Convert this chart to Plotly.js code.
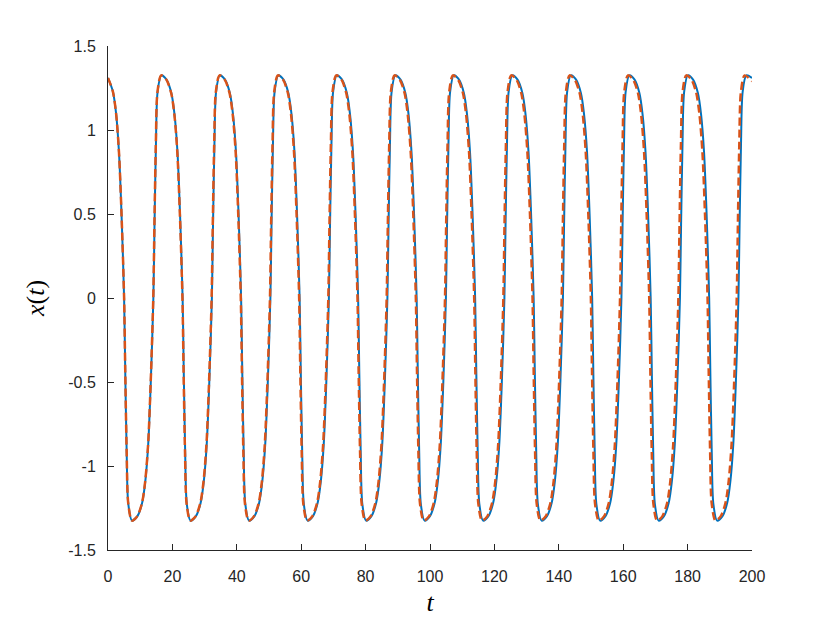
<!DOCTYPE html>
<html>
<head>
<meta charset="utf-8">
<script src="https://cdn.plot.ly/plotly-3.0.1.min.js"></script>
<style>html,body{margin:0;padding:0;background:#fff;}#chart{width:830px;height:623px;}</style>
</head>
<body>
<div id="chart"></div>
<script>
// (blue solid series)
const tBlue = [
  0, 1.5, 2.5, 3.4, 4.2,
  5.00, 5.35, 5.80, 6.30, 7.45, 9.09, 10.59, 11.59, 12.49, 13.29,
  14.09, 14.44, 14.89, 15.39, 16.54, 18.17, 19.67, 20.67, 21.57, 22.37,
  23.17, 23.52, 23.97, 24.47, 25.62, 27.26, 28.76, 29.76, 30.66, 31.46,
  32.26, 32.61, 33.06, 33.56, 34.71, 36.34, 37.84, 38.84, 39.74, 40.54,
  41.34, 41.69, 42.14, 42.64, 43.79, 45.43, 46.93, 47.93, 48.83, 49.63,
  50.43, 50.78, 51.23, 51.73, 52.88, 54.51, 56.01, 57.01, 57.91, 58.71,
  59.51, 59.86, 60.31, 60.81, 61.96, 63.60, 65.10, 66.10, 67.00, 67.80,
  68.60, 68.95, 69.40, 69.90, 71.05, 72.68, 74.18, 75.18, 76.08, 76.88,
  77.68, 78.03, 78.48, 78.98, 80.13, 81.77, 83.27, 84.27, 85.17, 85.97,
  86.77, 87.12, 87.57, 88.07, 89.22, 90.85, 92.35, 93.35, 94.25, 95.05,
  95.85, 96.20, 96.65, 97.15, 98.30, 99.94, 101.44, 102.44, 103.34, 104.14,
  104.94, 105.29, 105.74, 106.24, 107.39, 109.02, 110.52, 111.52, 112.42, 113.22,
  114.02, 114.37, 114.82, 115.32, 116.47, 118.11, 119.61, 120.61, 121.51, 122.31,
  123.11, 123.46, 123.91, 124.41, 125.56, 127.19, 128.69, 129.69, 130.59, 131.39,
  132.19, 132.54, 132.99, 133.49, 134.64, 136.28, 137.78, 138.78, 139.68, 140.48,
  141.28, 141.63, 142.08, 142.58, 143.73, 145.36, 146.86, 147.86, 148.76, 149.56,
  150.36, 150.71, 151.16, 151.66, 152.81, 154.45, 155.95, 156.95, 157.85, 158.65,
  159.45, 159.80, 160.25, 160.75, 161.90, 163.53, 165.03, 166.03, 166.93, 167.73,
  168.53, 168.88, 169.33, 169.83, 170.98, 172.62, 174.12, 175.12, 176.02, 176.82,
  177.62, 177.97, 178.42, 178.92, 180.07, 181.70, 183.20, 184.20, 185.10, 185.90,
  186.70, 187.05, 187.50, 188.00, 189.15, 190.79, 192.29, 193.29, 194.19, 194.99,
  195.79, 196.14, 196.59, 197.09, 198.24, 200
];
const xBlue = [
  1.31, 1.23, 1.10, 0.87, 0.50,
  0, -0.43, -0.92, -1.225, -1.325, -1.30, -1.22, -1.09, -0.87, -0.50,
  0, 0.43, 0.92, 1.225, 1.325, 1.30, 1.22, 1.09, 0.87, 0.50,
  0, -0.43, -0.92, -1.225, -1.325, -1.30, -1.22, -1.09, -0.87, -0.50,
  0, 0.43, 0.92, 1.225, 1.325, 1.30, 1.22, 1.09, 0.87, 0.50,
  0, -0.43, -0.92, -1.225, -1.325, -1.30, -1.22, -1.09, -0.87, -0.50,
  0, 0.43, 0.92, 1.225, 1.325, 1.30, 1.22, 1.09, 0.87, 0.50,
  0, -0.43, -0.92, -1.225, -1.325, -1.30, -1.22, -1.09, -0.87, -0.50,
  0, 0.43, 0.92, 1.225, 1.325, 1.30, 1.22, 1.09, 0.87, 0.50,
  0, -0.43, -0.92, -1.225, -1.325, -1.30, -1.22, -1.09, -0.87, -0.50,
  0, 0.43, 0.92, 1.225, 1.325, 1.30, 1.22, 1.09, 0.87, 0.50,
  0, -0.43, -0.92, -1.225, -1.325, -1.30, -1.22, -1.09, -0.87, -0.50,
  0, 0.43, 0.92, 1.225, 1.325, 1.30, 1.22, 1.09, 0.87, 0.50,
  0, -0.43, -0.92, -1.225, -1.325, -1.30, -1.22, -1.09, -0.87, -0.50,
  0, 0.43, 0.92, 1.225, 1.325, 1.30, 1.22, 1.09, 0.87, 0.50,
  0, -0.43, -0.92, -1.225, -1.325, -1.30, -1.22, -1.09, -0.87, -0.50,
  0, 0.43, 0.92, 1.225, 1.325, 1.30, 1.22, 1.09, 0.87, 0.50,
  0, -0.43, -0.92, -1.225, -1.325, -1.30, -1.22, -1.09, -0.87, -0.50,
  0, 0.43, 0.92, 1.225, 1.325, 1.30, 1.22, 1.09, 0.87, 0.50,
  0, -0.43, -0.92, -1.225, -1.325, -1.30, -1.22, -1.09, -0.87, -0.50,
  0, 0.43, 0.92, 1.225, 1.325, 1.30, 1.22, 1.09, 0.87, 0.50,
  0, -0.43, -0.92, -1.225, -1.325, -1.30, -1.22, -1.09, -0.87, -0.50,
  0, 0.43, 0.92, 1.225, 1.325, 1.31
];

// (orange dashed series)
const tOrange = [
  0, 1.5, 2.5, 3.4, 4.2,
  5.00, 5.35, 5.80, 6.30, 7.45, 9.06, 10.56, 11.56, 12.46, 13.26,
  14.06, 14.41, 14.86, 15.36, 16.51, 18.12, 19.62, 20.62, 21.52, 22.32,
  23.12, 23.47, 23.92, 24.42, 25.57, 27.18, 28.68, 29.68, 30.58, 31.38,
  32.18, 32.53, 32.98, 33.48, 34.63, 36.24, 37.74, 38.74, 39.64, 40.44,
  41.24, 41.59, 42.04, 42.54, 43.69, 45.30, 46.80, 47.80, 48.70, 49.50,
  50.30, 50.65, 51.10, 51.60, 52.75, 54.36, 55.86, 56.86, 57.76, 58.56,
  59.36, 59.71, 60.16, 60.66, 61.81, 63.42, 64.92, 65.92, 66.82, 67.62,
  68.42, 68.77, 69.22, 69.72, 70.87, 72.48, 73.98, 74.98, 75.88, 76.68,
  77.48, 77.83, 78.28, 78.78, 79.93, 81.54, 83.04, 84.04, 84.94, 85.74,
  86.54, 86.89, 87.34, 87.84, 88.99, 90.60, 92.10, 93.10, 94.00, 94.80,
  95.60, 95.95, 96.40, 96.90, 98.05, 99.66, 101.16, 102.16, 103.06, 103.86,
  104.66, 105.01, 105.46, 105.96, 107.11, 108.72, 110.22, 111.22, 112.12, 112.92,
  113.72, 114.07, 114.52, 115.02, 116.17, 117.78, 119.28, 120.28, 121.18, 121.98,
  122.78, 123.13, 123.58, 124.08, 125.23, 126.84, 128.34, 129.34, 130.24, 131.04,
  131.84, 132.19, 132.64, 133.14, 134.29, 135.90, 137.40, 138.40, 139.30, 140.10,
  140.90, 141.25, 141.70, 142.20, 143.35, 144.96, 146.46, 147.46, 148.36, 149.16,
  149.96, 150.31, 150.76, 151.26, 152.41, 154.02, 155.52, 156.52, 157.42, 158.22,
  159.02, 159.37, 159.82, 160.32, 161.47, 163.08, 164.58, 165.58, 166.48, 167.28,
  168.08, 168.43, 168.88, 169.38, 170.53, 172.14, 173.64, 174.64, 175.54, 176.34,
  177.14, 177.49, 177.94, 178.44, 179.59, 181.20, 182.70, 183.70, 184.60, 185.40,
  186.20, 186.55, 187.00, 187.50, 188.65, 190.26, 191.76, 192.76, 193.66, 194.46,
  195.26, 195.61, 196.06, 196.56, 197.71, 200
];
const xOrange = [
  1.31, 1.23, 1.10, 0.87, 0.50,
  0, -0.43, -0.92, -1.225, -1.325, -1.30, -1.22, -1.09, -0.87, -0.50,
  0, 0.43, 0.92, 1.225, 1.325, 1.30, 1.22, 1.09, 0.87, 0.50,
  0, -0.43, -0.92, -1.225, -1.325, -1.30, -1.22, -1.09, -0.87, -0.50,
  0, 0.43, 0.92, 1.225, 1.325, 1.30, 1.22, 1.09, 0.87, 0.50,
  0, -0.43, -0.92, -1.225, -1.325, -1.30, -1.22, -1.09, -0.87, -0.50,
  0, 0.43, 0.92, 1.225, 1.325, 1.30, 1.22, 1.09, 0.87, 0.50,
  0, -0.43, -0.92, -1.225, -1.325, -1.30, -1.22, -1.09, -0.87, -0.50,
  0, 0.43, 0.92, 1.225, 1.325, 1.30, 1.22, 1.09, 0.87, 0.50,
  0, -0.43, -0.92, -1.225, -1.325, -1.30, -1.22, -1.09, -0.87, -0.50,
  0, 0.43, 0.92, 1.225, 1.325, 1.30, 1.22, 1.09, 0.87, 0.50,
  0, -0.43, -0.92, -1.225, -1.325, -1.30, -1.22, -1.09, -0.87, -0.50,
  0, 0.43, 0.92, 1.225, 1.325, 1.30, 1.22, 1.09, 0.87, 0.50,
  0, -0.43, -0.92, -1.225, -1.325, -1.30, -1.22, -1.09, -0.87, -0.50,
  0, 0.43, 0.92, 1.225, 1.325, 1.30, 1.22, 1.09, 0.87, 0.50,
  0, -0.43, -0.92, -1.225, -1.325, -1.30, -1.22, -1.09, -0.87, -0.50,
  0, 0.43, 0.92, 1.225, 1.325, 1.30, 1.22, 1.09, 0.87, 0.50,
  0, -0.43, -0.92, -1.225, -1.325, -1.30, -1.22, -1.09, -0.87, -0.50,
  0, 0.43, 0.92, 1.225, 1.325, 1.30, 1.22, 1.09, 0.87, 0.50,
  0, -0.43, -0.92, -1.225, -1.325, -1.30, -1.22, -1.09, -0.87, -0.50,
  0, 0.43, 0.92, 1.225, 1.325, 1.30, 1.22, 1.09, 0.87, 0.50,
  0, -0.43, -0.92, -1.225, -1.325, -1.30, -1.22, -1.09, -0.87, -0.50,
  0, 0.43, 0.92, 1.225, 1.325, 1.29
];

const xTickVals = [0, 20, 40, 60, 80, 100, 120, 140, 160, 180, 200];
const xTickText = ['0', '20', '40', '60', '80', '100', '120', '140', '160', '180', '200'];
const yTickVals = [-1.5, -1, -0.5, 0, 0.5, 1, 1.5];
const yTickText = ['-1.5', '-1', '-0.5', '0', '0.5', '1', '1.5'];

const axisColor = '#262626';
const tickFont = {family: '"Liberation Sans", Arial, sans-serif', size: 16, color: axisColor};
const titleFont = {family: '"Liberation Serif", "DejaVu Serif", serif', size: 26, color: '#000000'};

const traces = [
  {
    x: tBlue, y: xBlue, type: 'scatter', mode: 'lines',
    line: {color: '#0072BD', width: 2, shape: 'spline', smoothing: 0.8},
    hoverinfo: 'skip', showlegend: false
  },
  {
    x: tOrange, y: xOrange, type: 'scatter', mode: 'lines',
    line: {color: '#D95319', width: 2.5, dash: '8px,4px', shape: 'spline', smoothing: 0.8},
    hoverinfo: 'skip', showlegend: false
  }
];

const layout = {
  width: 830, height: 623,
  margin: {l: 108, r: 78, t: 46, b: 73},
  paper_bgcolor: '#ffffff', plot_bgcolor: '#ffffff',
  showlegend: false,
  xaxis: {
    range: [0, 200], tickvals: xTickVals, ticktext: xTickText,
    ticks: 'inside', ticklen: 6, tickwidth: 1, tickcolor: axisColor,
    showline: true, linecolor: axisColor, linewidth: 1, mirror: false,
    showgrid: false, zeroline: false, tickfont: tickFont,
    ticklabelstandoff: 12,
    title: {text: '<i>t</i>', font: titleFont, standoff: 8}
  },
  yaxis: {
    range: [-1.5, 1.5], tickvals: yTickVals, ticktext: yTickText,
    ticks: 'inside', ticklen: 6, tickwidth: 1, tickcolor: axisColor,
    showline: true, linecolor: axisColor, linewidth: 1, mirror: false,
    showgrid: false, zeroline: false, tickfont: tickFont,
    ticklabelstandoff: 8, automargin: true,
    title: {text: '<i>x</i>(<i>t</i>)', font: titleFont, standoff: 16}
  }
};

Plotly.newPlot('chart', traces, layout, {staticPlot: true, displayModeBar: false});
</script>
</body>
</html>
